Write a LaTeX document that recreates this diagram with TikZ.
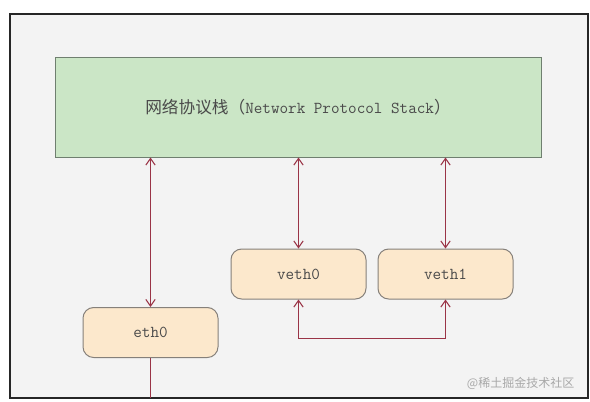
\documentclass[tikz,border=0pt]{standalone}
\usepackage{fontspec}
\newfontfamily\cjk{Noto Sans CJK SC}
\usetikzlibrary{arrows.meta}
\definecolor{framebg}{HTML}{F3F3F3}
\definecolor{stackfill}{HTML}{CBE6C6}
\definecolor{stackdraw}{HTML}{6F7F6F}
\definecolor{ifill}{HTML}{FCE8CC}
\definecolor{idraw}{HTML}{85807A}
\definecolor{arrowc}{HTML}{9A3446}
\definecolor{wmark}{HTML}{A8A8A8}
\definecolor{txt}{HTML}{4A4A4A}
\tikzset{
  stackbox/.style={draw=stackdraw, fill=stackfill, line width=0.75pt, minimum width=364.5pt, minimum height=75pt, inner sep=0pt, font=\fontsize{12.5}{14}\selectfont\ttfamily, text=txt},
  ifbox/.style={draw=idraw, fill=ifill, line width=0.75pt, rounded corners=8pt, minimum width=101.25pt, minimum height=37.5pt, inner sep=0pt, font=\fontsize{12.5}{14}\selectfont\ttfamily, text=txt},
  arr/.style={draw=arrowc, line width=0.8pt, {Straight Barb[length=5pt,width=7pt]}-{Straight Barb[length=5pt,width=7pt]}},
  plainline/.style={draw=arrowc, line width=0.8pt},
}
\begin{document}
\begin{tikzpicture}[x=0.75pt,y=-0.75pt]
\useasboundingbox (0,0) rectangle (590,401);
\fill[white] (0,0) rectangle (590,401);
\draw[fill=framebg, draw=black!85, line width=0.9pt] (10,14) rectangle (588,398);
\node[stackbox] (stack) at (298,107) {{\cjk 网络协议栈（}Network Protocol Stack{\cjk ）}};
\node[ifbox] (veth0) at (298.5,274) {veth0};
\node[ifbox] (veth1) at (445.5,274) {veth1};
\node[ifbox] (eth0) at (150.5,332.5) {eth0};
\coordinate (bottom) at (150.5,398);
\draw[arr] (eth0.north) -- (eth0.north |- stack.south);
\draw[arr] (veth0.north) -- (veth0.north |- stack.south);
\draw[arr] (veth1.north) -- (veth1.north |- stack.south);
\draw[arr] (veth0.south) -- ++(0,39) -| (veth1.south);
\draw[plainline] (eth0.south) -- (bottom);
\node[text=wmark, font=\cjk\fontsize{9}{10}\selectfont, anchor=east] (wm) at (579,383) {@稀土掘金技术社区};
\end{tikzpicture}
\end{document}
